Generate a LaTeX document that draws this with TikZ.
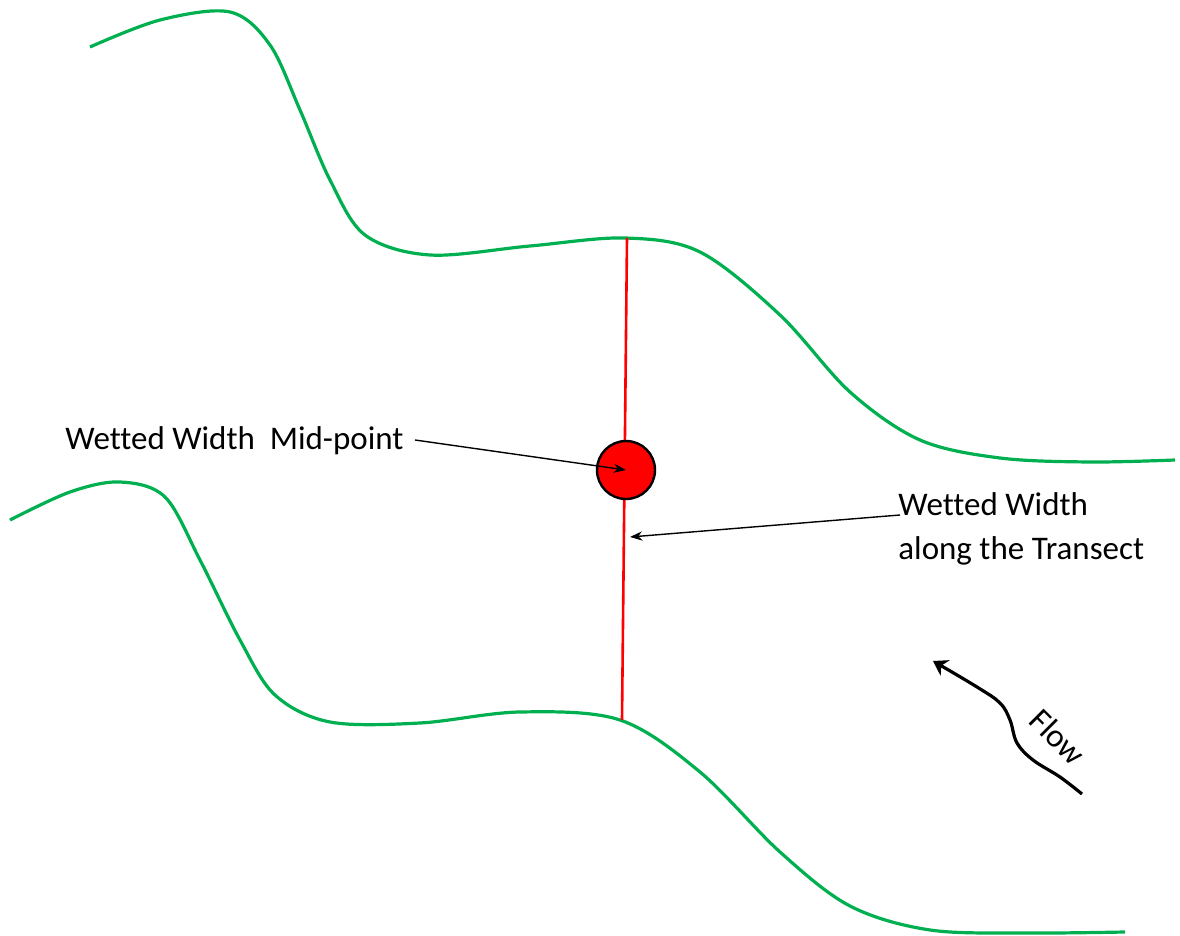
\documentclass[tikz,border=0pt]{standalone}
\usepackage{fontspec}
\setmainfont{Carlito}[Ligatures=NoCommon]
\usetikzlibrary{arrows.meta,positioning}
\definecolor{bankgreen}{HTML}{00B050}
\tikzset{
    bank/.style = {bankgreen, line width=1.6pt},
    pointer/.style = {-Stealth, line width=0.7pt},
    lbl/.style = {inner sep=0pt, align=left, font=\fontsize{16.5}{20}\selectfont},
    dot/.style = {circle, draw=black, fill=red, line width=1.2pt, minimum size=29pt, inner sep=0pt}
}
\begin{document}
\begin{tikzpicture}[x=0.5pt,y=-0.5pt]
      \useasboundingbox (0,0) rectangle (1180,936);
      % stream banks
      \draw[bank] plot[smooth, tension=0.55] coordinates {(90,47) (160,20) (230,12) (270,45) (300,110) (330,180) (365,235) (430,255) (530,246) (625,238) (700,252) (780,315) (850,392) (920,440) (1000,458) (1090,462) (1175,460)};
      \draw[bank] plot[smooth, tension=0.55] coordinates {(10,520) (70,492) (120,482) (165,497) (200,560) (240,640) (275,695) (330,722) (420,723) (520,712) (620,720) (700,772) (780,852) (850,906) (930,930) (1030,933) (1125,932)};

      % transect and mid-point
      \coordinate (top) at (627,238);
      \coordinate (bot) at (622,720);
      \draw[red, line width=1.3pt] (top) -- (bot);
      \node[dot] (mid) at (626,470) {};

      % labels
      \node[lbl, anchor=west] (midlabel) at (65,441) {Wetted Width\ \ Mid-point};
      \node[lbl, anchor=north west] (translabel) at (898,492) {Wetted Width\\[2pt]along the Transect};
      \coordinate (transstart) at (900,515);
      \coordinate (transend) at (630,537);
      \draw[pointer] (415,440) -- (mid.center);
      \draw[pointer] (transstart) -- (transend);

      % flow direction
      \coordinate (flowtail) at (1082,794);
      \coordinate (flowtip) at (933,661);
      \draw[-{Stealth[length=7pt,width=9pt]}, line width=1.6pt] plot[smooth, tension=0.6] coordinates {(flowtail) (1060,777) (1033,760) (1017,743) (1010,720) (1000,703) (977,687) (flowtip)};
      \node[lbl, rotate=-45] (flow) at (1058,737) {Flow};
\end{tikzpicture}
\end{document}
